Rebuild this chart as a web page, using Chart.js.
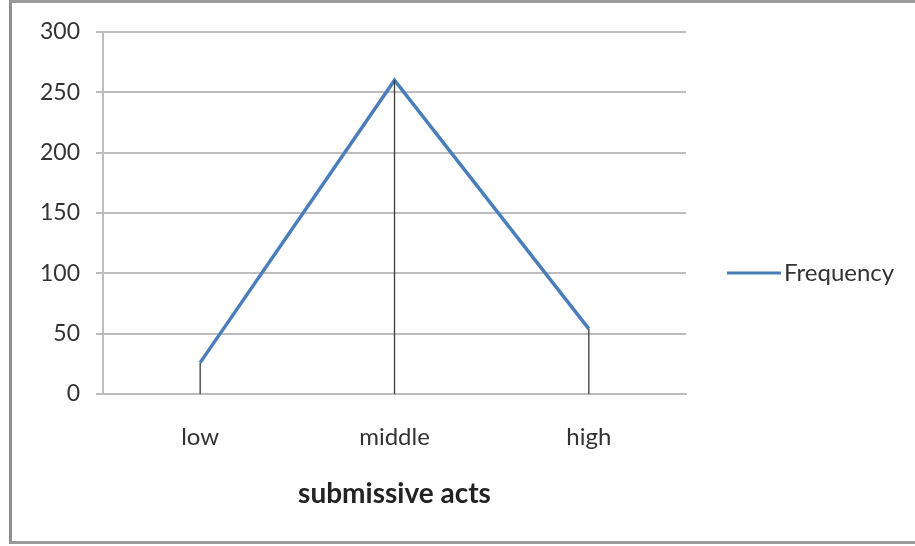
<!DOCTYPE html>
<html>
<head>
<meta charset="utf-8">
<script src="https://cdn.jsdelivr.net/npm/chart.js@4/dist/chart.umd.min.js"></script>
<style>
  body { margin: 0; background: #fff; }
  #wrap { position: relative; width: 915px; height: 546px; overflow: hidden; }
  #frame {
    position: absolute; left: 9px; top: 0px; width: 920px; height: 544px;
    border-left: 3px solid #8f8f8f; border-top: 3px solid #9a9a9a; border-bottom: 3px solid #9a9a9a;
    box-sizing: border-box; pointer-events: none;
  }
  canvas { position: absolute; left: 0; top: 0; }
</style>
</head>
<body>
<div id="wrap">
  <canvas id="chart" width="915" height="546"></canvas>
  <div id="frame"></div>
</div>
<script>
// chart data
const categories = ["low", "middle", "high"];
const frequency = [26, 260, 54];
const seriesName = "Frequency";
const yTicks = [0, 50, 100, 150, 200, 250, 300];

const lineColor = "#4a7ebb";
const textColor = "#333333";
const gridColor = "#bdbdbd";

// black drop lines from each point to the x axis
const dropLines = {
  id: "dropLines",
  afterDatasetsDraw(chart) {
    const ctx = chart.ctx;
    const meta = chart.getDatasetMeta(0);
    const bottom = chart.scales.y.getPixelForValue(0);
    ctx.save();
    ctx.strokeStyle = "#3a3a3a";
    ctx.lineWidth = 1.3;
    meta.data.forEach(pt => {
      ctx.beginPath();
      ctx.moveTo(pt.x, pt.y);
      ctx.lineTo(pt.x, bottom);
      ctx.stroke();
    });
    ctx.restore();
  }
};

// legend on the right, like the Excel one
const sideLegend = {
  id: "sideLegend",
  afterDraw(chart) {
    const ctx = chart.ctx;
    const y = 273;
    ctx.save();
    ctx.strokeStyle = lineColor;
    ctx.lineWidth = 3;
    ctx.beginPath();
    ctx.moveTo(727, y);
    ctx.lineTo(781, y);
    ctx.stroke();
    ctx.fillStyle = textColor;
    ctx.font = "24px Lato";
    ctx.textBaseline = "middle";
    ctx.fillText(chart.data.datasets[0].label, 784, y);
    ctx.restore();
  }
};

const ctx = document.getElementById("chart").getContext("2d");
new Chart(ctx, {
  type: "line",
  data: {
    labels: categories,
    datasets: [{
      label: seriesName,
      data: frequency,
      borderColor: lineColor,
      borderWidth: 3.5,
      pointRadius: 0,
      tension: 0,
      fill: false
    }]
  },
  options: {
    responsive: false,
    animation: false,
    layout: { padding: { top: 32, right: 229, bottom: 35, left: 0 } },
    plugins: {
      legend: { display: false },
      tooltip: { enabled: false }
    },
    scales: {
      x: {
        offset: true,
        grid: { display: true, drawOnChartArea: false, drawTicks: false },
        border: { color: gridColor, width: 2 },
        ticks: { color: textColor, font: { family: "Lato", size: 24 }, padding: 29 },
        title: {
          display: true,
          text: "submissive acts",
          color: "#222",
          font: { family: "Lato", size: 28, weight: "bold" },
          padding: 0
        },
        afterFit(scale) { scale.height = 117; }
      },
      y: {
        min: 0,
        max: 300,
        afterBuildTicks(scale) { scale.ticks = yTicks.map(v => ({ value: v })); },
        grid: { color: gridColor, lineWidth: 2, tickLength: 7 },
        border: { color: gridColor, width: 2 },
        ticks: { color: textColor, font: { family: "Lato", size: 23 }, padding: 16 },
        afterFit(scale) { scale.width = 103; }
      }
    }
  },
  plugins: [dropLines, sideLegend]
});
</script>
</body>
</html>
